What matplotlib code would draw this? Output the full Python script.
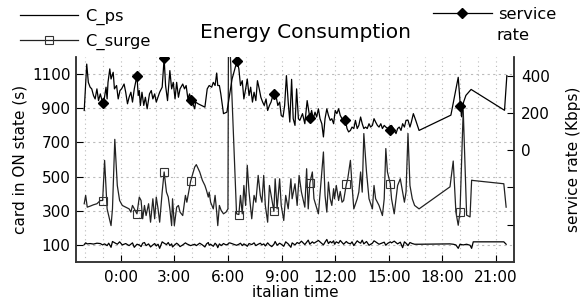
import numpy as np
import matplotlib.pyplot as plt
from matplotlib.ticker import MultipleLocator

# sample times (hours, italian time) shared by the two card series
t_card = [-2.04, -1.96, -1.87, -1.71, -1.52, -1.33, -1.14, -1.01, -0.90, -0.76,
          -0.67, -0.54, -0.46, -0.33, -0.19, -0.06, 0.09, 0.28, 0.47, 0.57,
          0.66, 0.76, 0.91, 1.04, 1.14, 1.23, 1.33, 1.42, 1.56, 1.67,
          1.80, 1.90, 1.99, 2.09, 2.18, 2.32, 2.43, 2.56, 2.66, 2.75,
          2.85, 2.90, 3.00, 3.13, 3.23, 3.32, 3.47, 3.62, 3.70, 3.91,
          4.14, 4.23, 4.42, 4.57, 4.71, 4.80, 4.90, 4.95, 5.03, 5.18,
          5.28, 5.37, 5.43, 5.52, 5.62, 5.75, 5.89, 6.00, 6.03, 6.10,
          6.48, 6.61, 6.70, 6.80, 6.89, 6.99, 7.08, 7.18, 7.33, 7.46,
          7.56, 7.69, 7.81, 7.90, 8.00, 8.09, 8.22, 8.32, 8.45, 8.57,
          8.64, 8.75, 8.89, 8.98, 9.12, 9.23, 9.37, 9.52, 9.59, 9.75,
          9.87, 9.98, 10.11, 10.30, 10.40, 10.49, 10.58, 10.72, 10.81, 11.06,
          11.34, 11.43, 11.53, 11.62, 11.72, 11.81, 11.91, 11.96, 12.06, 12.19,
          12.28, 12.38, 12.47, 12.62, 12.70, 12.85, 12.94, 13.04, 13.23, 13.32,
          13.42, 13.51, 13.60, 13.75, 13.89, 14.08, 14.17, 14.26, 14.45, 14.64,
          14.74, 14.83, 14.92, 15.08, 15.15, 15.30, 15.49, 15.64, 15.77, 15.87,
          15.96, 16.07, 16.18, 16.31, 16.44, 16.69, 18.42, 18.60, 18.75, 18.88,
          18.98, 19.16, 19.35, 19.54, 19.63, 19.72, 21.43, 21.56]

c_ps = [102, 112, 106, 108, 105, 110, 108, 100, 106, 96,
        110, 86, 120, 112, 104, 118, 100, 108, 96, 104,
        112, 86, 104, 100, 90, 110, 114, 96, 106, 88,
        100, 108, 94, 104, 80, 118, 110, 102, 114, 96,
        106, 88, 98, 110, 102, 90, 100, 112, 106, 96,
        104, 96, 110, 100, 88, 106, 114, 98, 104, 92,
        110, 100, 84, 106, 96, 108, 100, 104, 110, 112,
        98, 104, 110, 96, 106, 100, 92, 108, 102, 112,
        96, 104, 110, 100, 106, 94, 112, 100, 90, 104,
        120, 98, 110, 104, 92, 118, 106, 86, 112, 100,
        114, 108, 122, 102, 116, 128, 104, 118, 110, 126,
        100, 116, 132, 108, 120, 112, 124, 104, 118, 110,
        126, 114, 104, 120, 112, 106, 118, 96, 124, 116,
        110, 128, 106, 120, 98, 110, 124, 118, 104, 112,
        116, 98, 108, 118, 112, 122, 106, 116, 84, 118,
        110, 96, 114, 108, 104, 104, 106, 104, 100, 80,
        104, 100, 104, 98, 80, 118, 118, 104]

c_surge = [341, 390, 321, 327, 335, 341, 360, 360, 595, 311,
           272, 213, 311, 718, 448, 360, 331, 321, 311, 292,
           331, 311, 282, 380, 360, 253, 331, 272, 341, 233,
           370, 253, 380, 311, 233, 409, 527, 409, 380, 311,
           213, 370, 213, 321, 331, 292, 272, 390, 350, 472,
           556, 570, 527, 478, 448, 419, 380, 409, 350, 311,
           390, 292, 213, 331, 302, 282, 292, 311, 1400, 1300,
           282, 278, 390, 282, 448, 331, 566, 409, 253, 390,
           350, 507, 390, 350, 507, 331, 233, 448, 370, 296,
           487, 311, 487, 331, 243, 390, 311, 487, 370, 458,
           331, 507, 409, 321, 546, 311, 462, 527, 370, 282,
           644, 390, 292, 468, 370, 331, 429, 370, 448, 360,
           413, 350, 360, 454, 487, 595, 448, 311, 370, 409,
           527, 409, 752, 527, 370, 311, 448, 370, 331, 272,
           370, 664, 527, 458, 370, 282, 448, 487, 409, 350,
           409, 752, 448, 370, 331, 311, 440, 591, 293, 215,
           293, 890, 274, 264, 479, 477, 458, 321]

t_rate = [-2.04, -1.90, -1.81, -1.71, -1.62, -1.52, -1.43, -1.33, -1.24, -1.14,
          -1.01, -0.92, -0.82, -0.76, -0.71, -0.61, -0.54, -0.42, -0.35, -0.23,
          -0.14, -0.04, 0.05, 0.19, 0.28, 0.38, 0.47, 0.57, 0.66, 0.76,
          0.91, 0.98, 1.04, 1.10, 1.19, 1.29, 1.38, 1.48, 1.61, 1.71,
          1.80, 1.90, 1.99, 2.18, 2.32, 2.43, 2.51, 2.62, 2.75, 2.85,
          2.94, 3.04, 3.13, 3.23, 3.32, 3.47, 3.57, 3.66, 3.76, 3.85,
          3.95, 4.04, 4.14, 4.19, 4.33, 4.52, 4.71, 4.84, 4.95, 5.09,
          5.18, 5.28, 5.37, 5.43, 5.52, 5.60, 5.75, 5.94, 6.23, 6.51,
          6.61, 6.70, 6.80, 6.89, 6.99, 7.08, 7.18, 7.27, 7.37, 7.46,
          7.56, 7.65, 7.75, 7.84, 7.94, 8.03, 8.13, 8.22, 8.32, 8.41,
          8.51, 8.60, 8.70, 8.79, 8.89, 8.98, 9.08, 9.17, 9.27, 9.37,
          9.46, 9.56, 9.65, 9.75, 9.84, 9.94, 10.02, 10.17, 10.30, 10.43,
          10.58, 10.68, 10.77, 10.87, 10.96, 11.06, 11.15, 11.25, 11.34, 11.43,
          11.53, 11.62, 11.72, 11.81, 11.91, 12.00, 12.09, 12.19, 12.28, 12.38,
          12.57, 12.66, 12.75, 12.85, 12.94, 13.04, 13.13, 13.23, 13.32, 13.42,
          13.51, 13.60, 13.70, 13.79, 13.89, 13.98, 14.08, 14.17, 14.26, 14.36,
          14.45, 14.55, 14.64, 14.74, 14.83, 14.96, 15.08, 15.15, 15.26, 15.40,
          15.49, 15.58, 15.68, 15.77, 15.87, 15.96, 16.07, 16.18, 16.26, 16.37,
          16.50, 16.69, 18.47, 18.88, 19.00, 19.07, 19.18, 19.31, 19.60, 21.47,
          21.60]

rate = [213, 462, 364, 338, 329, 293, 275, 329, 266, 302,
        254, 275, 338, 275, 364, 436, 382, 418, 329, 347,
        275, 320, 329, 355, 311, 249, 284, 311, 258, 329,
        400, 293, 320, 240, 311, 240, 284, 222, 302, 320,
        275, 302, 258, 311, 338, 492, 347, 266, 427, 329,
        364, 275, 364, 284, 329, 355, 329, 347, 275, 302,
        270, 249, 222, 258, 249, 240, 231, 329, 347, 338,
        364, 347, 414, 347, 347, 302, 196, 204, 382, 480,
        436, 347, 373, 275, 329, 382, 293, 338, 258, 311,
        266, 373, 329, 284, 258, 240, 275, 213, 240, 258,
        293, 302, 284, 240, 258, 186, 178, 240, 400, 258,
        151, 380, 169, 133, 329, 169, 160, 196, 142, 266,
        172, 213, 169, 204, 178, 222, 169, 142, 71, 169,
        222, 187, 160, 169, 142, 213, 196, 222, 187, 169,
        160, 116, 98, 106, 124, 116, 160, 116, 133, 178,
        142, 116, 124, 116, 142, 124, 133, 169, 151, 133,
        124, 142, 116, 133, 124, 116, 106, 133, 116, 89,
        116, 124, 106, 142, 124, 160, 161, 124, 151, 196,
        161, 106, 188, 391, 235, 179, 258, 294, 326, 214,
        400]

# samples that carry a point symbol
mark_t = [-1.01, 0.91, 2.43, 3.91, 6.61, 8.57, 10.58, 12.62, 15.08, 18.98]
rate_mark_t = [-1.01, 0.91, 2.43, 3.95, 6.51, 8.60, 10.58, 12.57, 15.08, 19.00]

x_ticks = [0, 3, 6, 9, 12, 15, 18, 21]
x_labels = ['0:00', '3:00', '6:00', '9:00', '12:00', '15:00', '18:00', '21:00']
left_ticks = [100, 300, 500, 700, 900, 1100]
right_ticks = [-400, -200, 0, 200, 400]
right_labels = ['', '', '0', '200', '400']

t_card = np.array(t_card)
t_rate = np.array(t_rate)
surge_marks = [int(np.argmin(np.abs(t_card - m))) for m in mark_t]
rate_marks = [int(np.argmin(np.abs(t_rate - m))) for m in rate_mark_t]

plt.rcParams['font.family'] = 'DejaVu Sans'
fig = plt.figure(figsize=(5.81, 3.01), dpi=100)
ax = fig.add_axes([76 / 581, 39 / 301, 438 / 581, 205 / 301])

l_ps, = ax.plot(t_card, c_ps, color='black', lw=0.9)
l_surge, = ax.plot(t_card, c_surge, color='#222222', lw=0.9, marker='s',
                   markevery=surge_marks, ms=6, mfc='none', mec='#333333', mew=0.8)

ax.set_xlim(-2.5, 22)
ax.set_ylim(0, 1200)
ax.set_xticks(x_ticks)
ax.set_xticklabels(x_labels)
ax.xaxis.set_minor_locator(MultipleLocator(1))
ax.set_yticks(left_ticks)
ax.grid(True, which='both', axis='x', color='#bbbbbb', ls=(0, (1, 3)), lw=0.8)
ax.grid(True, which='major', axis='y', color='#bbbbbb', ls=(0, (2, 3)), lw=0.8)
ax.tick_params(axis='both', which='major', direction='in', length=5, labelsize=11)
ax.tick_params(axis='y', pad=4)
ax.tick_params(axis='x', pad=6)
ax.tick_params(axis='x', which='minor', length=0)
ax.set_xlabel('italian time', fontsize=11, labelpad=0)
ax.set_ylabel('card in ON state (s)', fontsize=11, labelpad=3)
ax.spines['top'].set_visible(False)

ax2 = ax.twinx()
l_rate, = ax2.plot(t_rate, rate, color='black', lw=0.9, marker='D',
                   markevery=rate_marks, ms=5, mfc='black', mec='black')
ax2.set_ylim(-600, 500)
ax2.set_yticks(right_ticks)
ax2.set_yticklabels(right_labels)
ax2.tick_params(axis='y', direction='in', length=5, labelsize=11, pad=5)
ax2.set_ylabel('service rate (Kbps)', fontsize=11, labelpad=12)
ax2.spines['top'].set_visible(False)

for a in (ax, ax2):
    for s in a.spines.values():
        s.set_color('#333333')
        s.set_linewidth(1.1)

fig.legend([l_ps, l_surge], ['C_ps', 'C_surge'], loc='upper left',
           bbox_to_anchor=(20 / 581, 1 - 9 / 301), frameon=False, fontsize=11.7,
           handlelength=3.6, handletextpad=0.4, labelspacing=0.55,
           borderpad=0, borderaxespad=0)
fig.legend([l_rate], ['service'], loc='upper left',
           bbox_to_anchor=(433 / 581, 1 - 7 / 301), frameon=False, fontsize=11.7,
           handlelength=3.6, handletextpad=0.4, borderpad=0, borderaxespad=0)
fig.text(497 / 581, 1 - 35 / 301, 'rate', fontsize=11.7, va='center', ha='left')

fig.text(306 / 581, 1 - 33 / 301, 'Energy Consumption', fontsize=14.5,
         ha='center', va='center')

fig.savefig('out.png', dpi=100)
